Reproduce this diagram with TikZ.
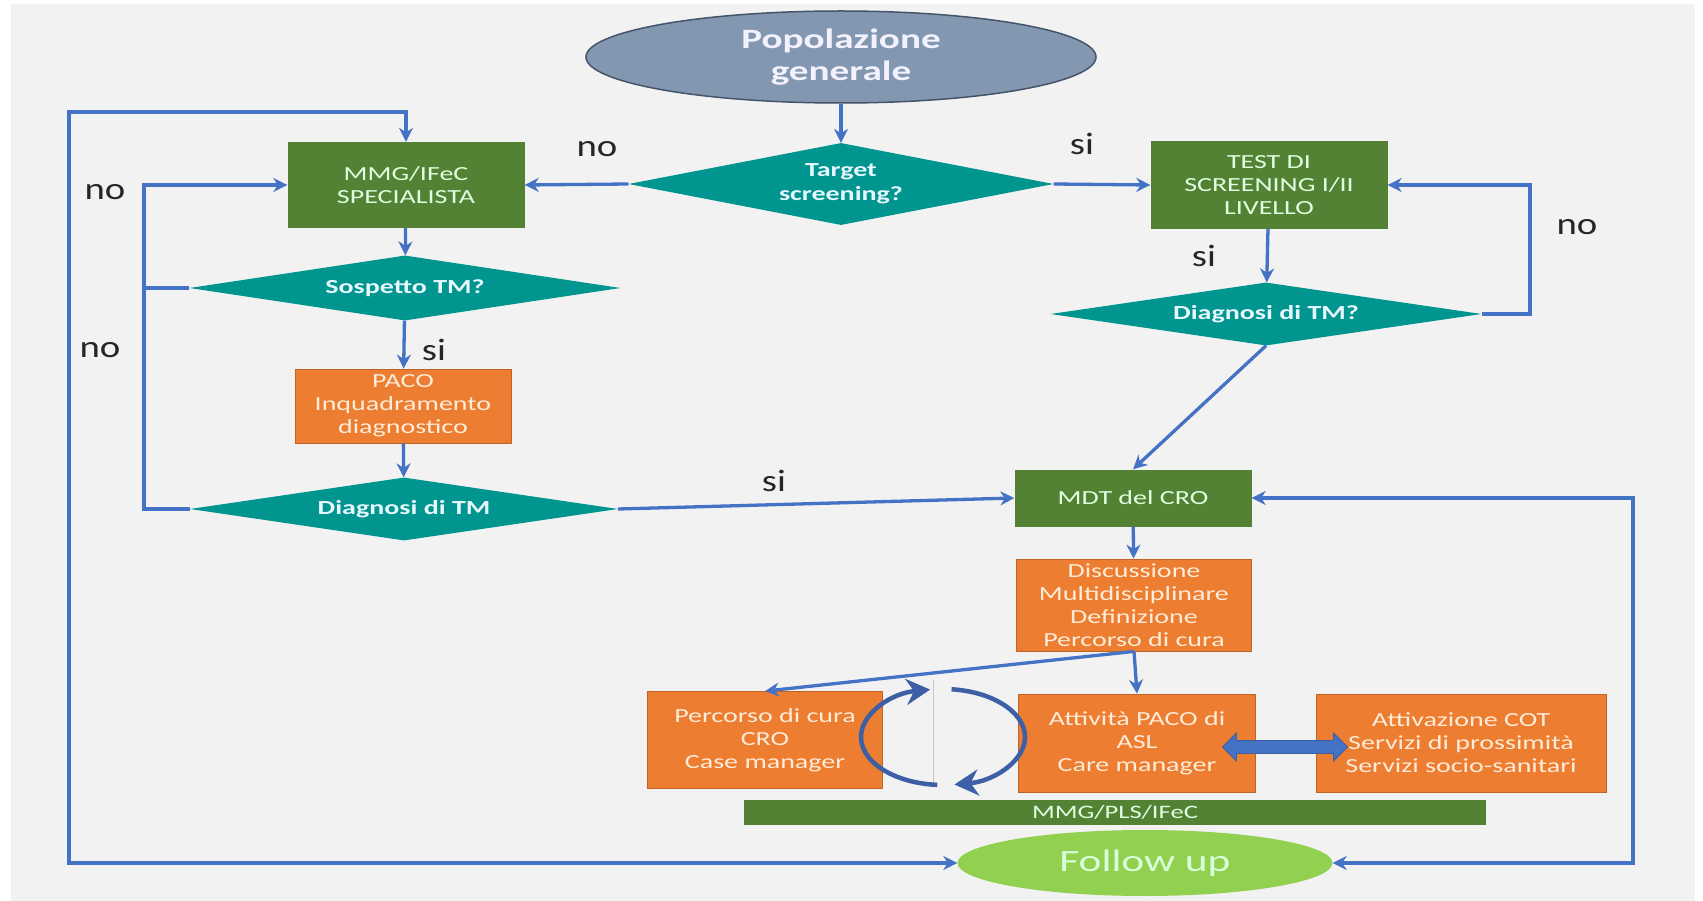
\documentclass[tikz,border=0pt]{standalone}
\usepackage{fontspec}
\setmainfont[FakeStretch=1.4]{Carlito}
\newfontfamily\labfont[FakeStretch=1.25]{Carlito}
\usetikzlibrary{arrows.meta}
\usetikzlibrary{shapes.geometric}
\usetikzlibrary{shapes.arrows}

\definecolor{paper}{HTML}{F2F2F2}
\definecolor{boxgreen}{HTML}{548235}
\definecolor{boxorange}{HTML}{ED7D31}
\definecolor{boxteal}{HTML}{00958F}
\definecolor{popfill}{HTML}{8497B0}
\definecolor{popline}{HTML}{44546A}
\definecolor{fufill}{HTML}{92D050}
\definecolor{linkblue}{HTML}{4472C4}
\definecolor{cycblue}{HTML}{3C5FA5}

\begin{document}
\begin{tikzpicture}[x=1pt,y=-1pt,
  greenbox/.style={rectangle, fill=boxgreen, text=white!88!green, align=center, inner sep=0pt, font=\fontsize{20}{23}\selectfont},
  orangebox/.style={rectangle, fill=boxorange, draw=boxorange!80!black, line width=0.8pt, text=white!85!orange, align=center, inner sep=0pt, font=\fontsize{20}{23}\selectfont},
  decision/.style={diamond, aspect=5, fill=boxteal, text=white!90!cyan, align=center, inner sep=0pt, font=\fontsize{20}{24}\selectfont\bfseries},
  lab/.style={text=black!85, font=\labfont\fontsize{31}{31}\selectfont},
  conn/.style={draw=linkblue, line width=3.3pt, -{Stealth[length=14pt,width=14pt]}},
  cyc/.style={draw=cycblue, line width=4.5pt, -{Stealth[length=24pt,width=26pt]}}]
%\draw[help lines] (0,0) grid (1703,901);

\useasboundingbox (0,0) rectangle (1703,901);
\fill[paper] (11,4) rectangle (1695,901);

% top of the flow
\node[ellipse, fill=popfill, draw=popline, line width=1.5pt, minimum width=510, minimum height=92, inner sep=0pt, align=center, text=white!95!blue, font=\fontsize{28}{32}\selectfont\bfseries] at (841,57) (pop) {Popolazione\\generale};
\node[decision, minimum width=425, minimum height=82] at (841,184) (target) {Target\\screening?};
\node[greenbox, minimum width=237, minimum height=86] at (406,185) (mmg) {MMG/IFeC\\SPECIALISTA};
\node[greenbox, minimum width=237, minimum height=88] at (1269,185) (test) {TEST DI\\SCREENING I/II\\LIVELLO};

% left branch
\node[decision, minimum width=431, minimum height=65] at (405,288) (sosp) {Sospetto TM?};
\node[orangebox, minimum width=216, minimum height=74] at (403,406) (paco) {PACO\\Inquadramento\\diagnostico};
\node[decision, minimum width=428, minimum height=63] at (404,509) (diag) {Diagnosi di TM};

% right branch
\node[decision, minimum width=431, minimum height=63] at (1266,314) (diagq) {Diagnosi di TM?};
\node[greenbox, minimum width=237, minimum height=57] at (1133,498) (mdt) {MDT del CRO};
\node[orangebox, minimum width=235, minimum height=92] at (1134,605) (disc) {Discussione\\Multidisciplinare\\Definizione\\Percorso di cura};

% care paths
\node[orangebox, minimum width=235, minimum height=97] at (765,740) (perc) {Percorso di cura\\CRO\\Case manager};
\node[orangebox, minimum width=237, minimum height=98] at (1137,743) (att) {Attività PACO di\\ASL\\Care manager};
\node[orangebox, minimum width=290, minimum height=98] at (1461,743) (cot) {Attivazione COT\\Servizi di prossimità\\Servizi socio-sanitari};
\node[greenbox, minimum width=742, minimum height=25, font=\fontsize{19}{19}\selectfont] at (1115,812) (bar) {MMG/PLS/IFeC};
\node[ellipse, fill=fufill, minimum width=375, minimum height=66, inner sep=0pt, text=white!85!green, font=\fontsize{31}{31}\selectfont] at (1145,863) (fu) {Follow up};

% connectors
\draw[conn] (pop) -- (target);
\draw[conn] (target.west) -- (mmg.east);
\draw[conn] (target.east) -- (test.west);
\draw[conn] (mmg) -- (sosp);
\draw[conn] (sosp) -- (paco);
\draw[conn] (paco) -- (diag);
\draw[conn] (test) -- (diagq);
\draw[conn] (diagq.east) -| (1530,185) -- (test.east);
\draw[conn] (diagq.south) -- (mdt.north);
\draw[conn] (diag.east) -- (mdt.west);
\draw[conn] (diag.west) -| (144,185) -- (mmg.west);
\draw[conn,-] (sosp.west) -- (144,288);
\draw[conn,{Stealth[length=14pt,width=14pt]}-{Stealth[length=14pt,width=14pt]}] (fu.west) -| (69,112) -| (mmg.north);
\draw[conn,{Stealth[length=14pt,width=14pt]}-{Stealth[length=14pt,width=14pt]}] (mdt.east) -| (1633,863) -- (fu.east);
\draw[conn] (mdt) -- (disc);
\draw[conn] (disc.south) -- (att.north);
\draw[conn] (disc.south) -- (perc.north);

% exchange between the two care paths
\draw[gray!45, line width=0.8pt] (933,680) -- (933,787);
\draw[cyc] (943,737) ++(94:82 and 48) arc[start angle=94, end angle=261, x radius=82, y radius=48];
\draw[cyc] (943,737) ++(276:82 and 48) arc[start angle=276, end angle=442, x radius=82, y radius=48];
\node[double arrow, fill=linkblue, draw=cycblue, line width=0.8pt, minimum height=125, minimum width=27, double arrow head extend=7.5pt, inner sep=6pt] at (1285,747) (swap) {};

% answers
\node[lab] at (597,149) (no1) {no};
\node[lab] at (1082,144) (si1) {si};
\node[lab] at (105,192) (no2) {no};
\node[lab] at (100,350) (no3) {no};
\node[lab] at (434,350) (si2) {si};
\node[lab] at (774,481) (si3) {si};
\node[lab] at (1204,256) (si4) {si};
\node[lab] at (1577,227) (no4) {no};
\end{tikzpicture}
\end{document}
